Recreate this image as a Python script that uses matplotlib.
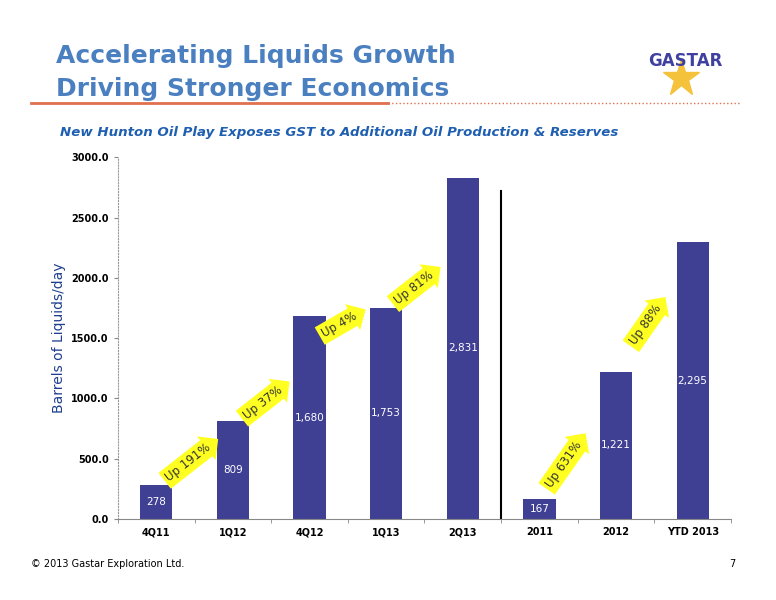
import matplotlib.pyplot as plt

categories = ["4Q11", "1Q12", "4Q12", "1Q13", "2Q13", "2011", "2012", "YTD 2013"]
values = [278, 809, 1680, 1753, 2831, 167, 1221, 2295]
value_labels = ["278", "809", "1,680", "1,753", "2,831", "167", "1,221", "2,295"]
arrow_texts = ["Up 191%", "Up 37%", "Up 4%", "Up 81%", "Up 631%", "Up 88%"]
arrow_x = [0.42, 1.39, 2.39, 3.36, 5.32, 6.39]
arrow_y = [471, 967, 1611, 1917, 455, 1611]
arrow_rot = [38, 38, 30, 38, 55, 55]

bar_color = "#3f3f94"

fig = plt.figure(figsize=(7.76, 6), dpi=100)
ax = fig.add_axes([0.152, 0.135, 0.79, 0.603])

x = list(range(len(categories)))
ax.bar(x, values, width=0.42, color=bar_color)
for xi, v, lab in zip(x, values, value_labels):
    ax.text(xi, v / 2, lab, ha="center", va="center", color="white", fontsize=7.5)

for xa, ya, t, r in zip(arrow_x, arrow_y, arrow_texts, arrow_rot):
    ax.text(xa, ya, t, rotation=r, ha="center", va="center", fontsize=8.5, color="#333",
            bbox=dict(boxstyle="rarrow,pad=0.3", fc="#ffff22", ec="none"))

ax.plot([4.5, 4.5], [0, 2720], color="black", lw=1.5)

ax.set_xlim(-0.5, 7.5)
ax.set_ylim(0, 3000)
ax.set_yticks(range(0, 3001, 500))
ax.set_yticklabels([f"{v:.1f}" for v in range(0, 3001, 500)], fontsize=7, fontweight="bold")
ax.set_xticks(x)
ax.set_xticklabels(categories, fontsize=7, fontweight="bold")
ax.set_xticks([i + 0.5 for i in range(-1, 8)], minor=True)
ax.tick_params(axis="x", which="major", length=0, pad=6)
ax.tick_params(axis="x", which="minor", length=3, color="#888")
ax.tick_params(axis="y", length=3, color="#888")
for s in ["top", "right"]:
    ax.spines[s].set_visible(False)
ax.spines["left"].set_color("#999")
ax.spines["left"].set_linestyle(":")
ax.spines["bottom"].set_color("#888")
ax.set_ylabel("Barrels of Liquids/day", fontsize=10, color="#1f3f8f")

fig.text(0.072, 0.895, "Accelerating Liquids Growth", fontsize=18, fontweight="bold", color="#4a7fc0")
fig.text(0.072, 0.84, "Driving Stronger Economics", fontsize=18, fontweight="bold", color="#4a7fc0")
fig.add_artist(plt.Line2D([0.04, 0.955], [0.828, 0.828], color="#e07050", lw=1, ls=":"))
fig.add_artist(plt.Line2D([0.04, 0.5], [0.828, 0.828], color="#e07050", lw=2))
fig.text(0.077, 0.773, "New Hunton Oil Play Exposes GST to Additional Oil Production & Reserves",
         fontsize=9.6, fontweight="bold", fontstyle="italic", color="#1f5fb0")
fig.add_artist(plt.Line2D([0.878], [0.87], marker="*", markersize=28, color="#f5c23c",
                          transform=fig.transFigure))
fig.text(0.835, 0.89, "GASTAR", fontsize=12, fontweight="bold", color="#4040a0")
fig.text(0.04, 0.055, "© 2013 Gastar Exploration Ltd.", fontsize=7)
fig.text(0.94, 0.055, "7", fontsize=7)

fig.savefig("out.png", dpi=100)
